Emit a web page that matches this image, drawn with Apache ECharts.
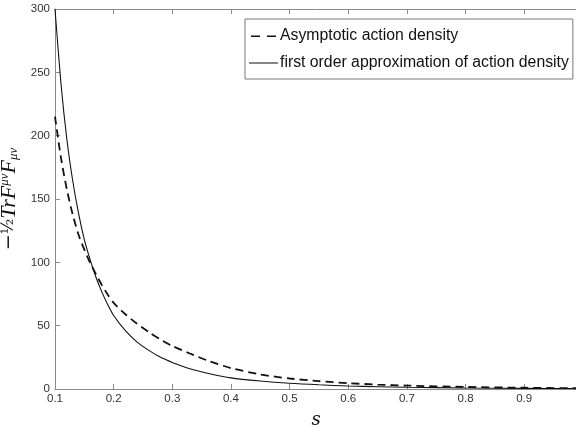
<!DOCTYPE html>
<html><head><meta charset="utf-8">
<script src="https://cdn.jsdelivr.net/npm/echarts@6/dist/echarts.min.js"></script>
<style>html,body{margin:0;padding:0;background:#fff}#c{width:576px;height:427px}</style>
</head><body><div id="c"></div>
<script>
const sValues = [0.10,0.11,0.12,0.13,0.14,0.15,0.16,0.17,0.18,0.19,0.20,0.22,0.24,0.26,0.28,0.30,0.33,0.36,0.40,0.45,0.50,0.55,0.60,0.65,0.70,0.80,0.90,0.99];
const asymptotic = [215,183,158,138,122,110,99.5,90.5,82,74.5,68,59,51.5,45,39,34,28,22.5,16.5,11.5,8.3,6.2,4.6,3.5,2.7,1.6,1.0,0.6];
const firstOrder = [300,242,198,165,139,118,102,88,76.5,66.5,58,46,37,30.5,25,21,16,12.5,8.8,6.3,4.5,3.3,2.4,1.8,1.4,0.8,0.5,0.35];
const seriesNames = ['Asymptotic action density','first order approximation of action density'];
const xTicks = [0.1,0.2,0.3,0.4,0.5,0.6,0.7,0.8,0.9];
const yTicks = [0,50,100,150,200,250,300];

const toPairs = (ys) => sValues.map((s,i)=>[s,ys[i]]);
const axisGray = '#8a8a8a';
const chart = echarts.init(document.getElementById('c'));
chart.setOption({
  animation:false,
  backgroundColor:'#fff',
  grid:{left:55,right:-1,top:9,bottom:38,containLabel:false,outerBoundsMode:'none'},
  legend:{
    orient:'vertical', left:245, top:19,
    padding:[9,4,8,4], itemGap:11,
    borderColor:'#777', borderWidth:1, backgroundColor:'#fff',
    itemWidth:29, itemHeight:16,
    textStyle:{fontFamily:'Liberation Sans, Arial, sans-serif',fontSize:15.8,color:'#111',padding:[0,0,0,-3]},
    data:[
      {name:seriesNames[0], icon:'path://M0,7.4h9v1.6h-9zM16,7.4h9v1.6h-9zM0,0h0.01v0.01h-0.01zM0,16h0.01v0.01h-0.01z'},
      {name:seriesNames[1], icon:'path://M0,7.6h29v1h-29zM0,0h0.01v0.01h-0.01zM0,16h0.01v0.01h-0.01z'}
    ]
  },
  xAxis:[{
    type:'value', min:0.1, max:0.99, interval:0.1,
    name:'s', nameLocation:'middle', nameGap:22,
    nameTextStyle:{fontFamily:'DejaVu Serif, serif',fontStyle:'italic',fontSize:18,color:'#111'},
    axisLine:{lineStyle:{color:axisGray,width:1}},
    axisTick:{inside:true,length:5,lineStyle:{color:axisGray}},
    axisLabel:{margin:4,fontFamily:'Liberation Sans, Arial, sans-serif',fontSize:11.5,color:'#333',showMaxLabel:false,
      formatter:(v)=>xTicks.some(t=>Math.abs(t-v)<1e-6)?v.toFixed(1):''},
    splitLine:{show:false}
  },{
    type:'value', position:'top', min:0.1, max:0.99, interval:0.1,
    axisLine:{lineStyle:{color:axisGray,width:1}},
    axisTick:{inside:true,length:5,lineStyle:{color:axisGray}},
    axisLabel:{show:false}, splitLine:{show:false}
  }],
  yAxis:{
    type:'value', min:0, max:300, interval:50,
    name:'{m|−}{h|½}{i|TrF}{sp|μν}{i|F}{sb|μν}', nameLocation:'middle', nameGap:28, nameRotate:90,
    nameTextStyle:{
      rich:{
        m:{fontFamily:'DejaVu Serif, serif',fontSize:19,color:'#111'},
        h:{fontFamily:'DejaVu Serif, serif',fontSize:16,color:'#111'},
        i:{fontFamily:'Liberation Serif, serif',fontStyle:'italic',fontSize:22,color:'#111'},
        sp:{fontFamily:'Liberation Serif, serif',fontStyle:'italic',fontSize:13,color:'#111',verticalAlign:'top',lineHeight:22},
        sb:{fontFamily:'Liberation Serif, serif',fontStyle:'italic',fontSize:13,color:'#111',verticalAlign:'bottom',lineHeight:22}
      }
    },
    axisLine:{show:true,lineStyle:{color:axisGray,width:1}},
    axisTick:{show:true,inside:true,length:5,lineStyle:{color:axisGray}},
    axisLabel:{margin:5,fontFamily:'Liberation Sans, Arial, sans-serif',fontSize:11.5,color:'#333',
      formatter:(v)=>yTicks.includes(v)?String(v):''},
    splitLine:{show:false}
  },
  series:[{
    name:seriesNames[0], type:'line', smooth:0.25, showSymbol:false, symbol:'none',
    data:toPairs(asymptotic), clip:true,
    lineStyle:{color:'#111',width:1.8,type:[8,5]}, itemStyle:{color:'#111'}
  },{
    name:seriesNames[1], type:'line', smooth:0.25, showSymbol:false, symbol:'none',
    data:toPairs(firstOrder), clip:true,
    lineStyle:{color:'#111',width:1.1,type:'solid'}, itemStyle:{color:'#111'}
  }]
});
</script></body></html>
